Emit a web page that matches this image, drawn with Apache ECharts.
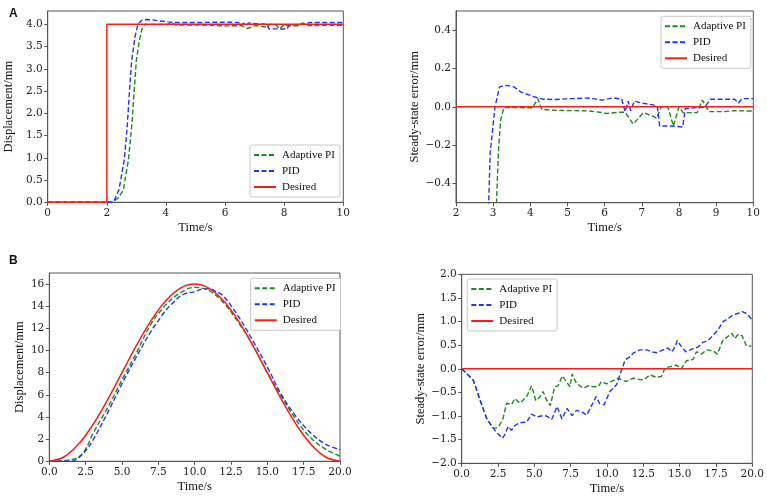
<!DOCTYPE html>
<html>
<head>
<meta charset="utf-8">
<script src="https://cdn.jsdelivr.net/npm/echarts@6/dist/echarts.min.js"></script>
<style>html,body{margin:0;padding:0;background:#fff}#c{width:767px;height:497px}</style>
</head>
<body>
<div id="c"></div>
<script>
// ---- Panel A (step response) ----
const stepDesired = [[0,0],[2,0],[2,4],[10,4]];
const stepPI = [[0,0],[2.0,0],[2.17,0],[2.39,0.1],[2.56,0.28],[2.73,0.95],[2.84,1.70],[2.92,2.44],[3.0,3.19],[3.09,3.6],[3.2,3.93],[3.29,4.0],[4.06,3.995],[4.2,4.04],[4.31,3.986],[5.57,3.98],[6.05,3.965],[6.55,3.972],[6.77,3.91],[7.04,3.97],[7.4,3.94],[7.52,4.0],[7.7,4.0],[7.85,3.9],[8.0,4.0],[8.11,3.97],[8.49,3.97],[8.63,4.035],[8.81,3.975],[10,3.978]];
const stepPID = [[0,0],[2.0,0],[2.22,0],[2.41,0.28],[2.59,0.95],[2.69,1.70],[2.76,2.44],[2.84,3.19],[2.95,3.71],[3.05,4.0],[3.18,4.09],[3.35,4.11],[3.56,4.10],[3.74,4.08],[4.06,4.055],[4.33,4.04],[5.0,4.04],[5.57,4.046],[6.23,4.047],[6.46,4.04],[6.55,3.975],[6.63,4.03],[6.7,3.98],[6.8,4.03],[7.0,4.02],[7.42,4.0],[7.48,3.9],[8.1,3.895],[8.17,3.99],[8.7,4.0],[8.85,4.04],[10,4.043]];
const stepErrDesired = [[2,0],[10,0]];
const stepErrPI = [[3.05,-0.7],[3.09,-0.5],[3.14,-0.24],[3.2,-0.07],[3.29,-0.003],[4.06,-0.005],[4.2,0.043],[4.31,-0.014],[4.67,-0.018],[5.57,-0.021],[5.93,-0.03],[6.05,-0.035],[6.41,-0.028],[6.55,-0.028],[6.77,-0.09],[7.04,-0.03],[7.31,-0.05],[7.4,-0.06],[7.52,0],[7.7,0],[7.85,-0.1],[8.0,0],[8.11,-0.03],[8.49,-0.03],[8.63,0.035],[8.81,-0.025],[9.2,-0.025],[9.47,-0.02],[10,-0.022]];
const stepErrPID = [[2.84,-0.8],[2.88,-0.5],[2.92,-0.24],[3.05,0],[3.17,0.104],[3.35,0.112],[3.56,0.104],[3.74,0.078],[4.06,0.055],[4.33,0.04],[4.67,0.038],[5.12,0.043],[5.57,0.046],[5.93,0.035],[6.23,0.047],[6.46,0.04],[6.55,-0.025],[6.63,0.03],[6.7,-0.02],[6.8,0.03],[7.0,0.02],[7.3,0.01],[7.42,0.0],[7.48,-0.1],[7.8,-0.1],[8.1,-0.105],[8.17,-0.01],[8.7,0.0],[8.85,0.04],[9.5,0.04],[9.6,0.02],[9.7,0.043],[10,0.043]];

// ---- Panel B (sinusoidal tracking) ----
const sineDesired = [[0,0],[1,0.39],[2,1.53],[3,3.3],[4,5.53],[5,8],[6,10.47],[7,12.7],[8,14.47],[9,15.61],[10,16],[11,15.61],[12,14.47],[13,12.7],[14,10.47],[15,8],[16,5.53],[17,3.3],[18,1.53],[19,0.39],[20,0]];
const sinePI = [[0,0],[1,0.05],[1.5,0.15],[2,0.35],[2.5,1.1],[3,2.5],[4,4.8],[5,7.35],[6,9.8],[7,12.4],[8,14.1],[9,15.2],[10,15.7],[11,15.4],[12,14.3],[13,12.55],[14,10.5],[15,8.0],[16,5.8],[17,3.7],[18,2.1],[19,1.1],[20,0.45]];
const sinePID = [[0,0],[1,0],[1.6,0.02],[2,0.3],[2.5,0.95],[3,1.9],[4,4.35],[5,7.0],[6,9.45],[7,11.75],[7.5,12.7],[8,13.6],[8.5,14.3],[9,14.9],[9.5,15.2],[10,15.3],[10.5,15.55],[11,15.58],[11.5,15.3],[12,14.9],[13,13.1],[14,10.9],[15,8.5],[16,5.95],[17,4.0],[18,2.55],[19,1.55],[20,1.05]];
const sineErrDesired = [[0,0],[20,0]];
const sineErrPI = [[0,0],[0.8,-0.24],[1.26,-0.66],[1.72,-1.05],[1.95,-1.16],[2.2,-1.26],[2.5,-1.24],[2.82,-1.08],[3.09,-0.73],[3.43,-0.76],[3.66,-0.63],[4.0,-0.73],[4.47,-0.59],[4.81,-0.36],[5.1,-0.67],[5.38,-0.6],[5.6,-0.48],[5.84,-0.66],[6.1,-0.78],[6.4,-0.38],[6.63,-0.36],[6.93,-0.15],[7.2,-0.27],[7.45,-0.38],[7.6,-0.11],[7.9,-0.31],[8.36,-0.41],[8.7,-0.36],[9.04,-0.38],[9.39,-0.38],[9.62,-0.27],[9.97,-0.32],[10.42,-0.25],[10.77,-0.2],[11.3,-0.27],[11.8,-0.2],[12.5,-0.24],[12.95,-0.13],[13.4,-0.18],[13.75,-0.16],[14.0,0.02],[14.3,0.04],[14.78,0.08],[15.1,0.0],[15.47,0.17],[15.93,0.2],[16.15,0.36],[16.5,0.31],[16.84,0.4],[17.3,0.38],[17.6,0.31],[17.98,0.61],[18.3,0.68],[18.6,0.75],[18.8,0.64],[19.03,0.73],[19.3,0.7],[19.6,0.48],[19.95,0.48]];
const sineErrPID = [[0,0],[0.8,-0.24],[1.26,-0.66],[1.72,-1.05],[1.95,-1.16],[2.4,-1.35],[2.82,-1.47],[3.0,-1.37],[3.2,-1.22],[3.43,-1.3],[3.66,-1.2],[4.0,-1.14],[4.47,-1.13],[4.81,-0.96],[5.16,-1.02],[5.6,-0.99],[5.84,-1.0],[6.2,-1.07],[6.56,-0.8],[6.9,-1.06],[7.25,-0.84],[7.6,-0.99],[7.9,-0.88],[8.25,-0.91],[8.6,-0.98],[8.95,-0.77],[9.25,-0.59],[9.5,-0.74],[9.8,-0.76],[10.2,-0.48],[10.65,-0.34],[11.0,-0.03],[11.25,0.19],[11.6,0.26],[11.8,0.33],[12.26,0.4],[12.72,0.4],[13.06,0.36],[13.4,0.34],[13.86,0.4],[14.2,0.44],[14.45,0.36],[14.68,0.46],[14.84,0.6],[15.1,0.48],[15.42,0.36],[15.8,0.41],[16.26,0.46],[16.6,0.56],[16.96,0.6],[17.3,0.71],[17.64,0.82],[17.98,1.0],[18.33,1.06],[18.67,1.14],[19.0,1.17],[19.3,1.21],[19.6,1.17],[19.95,1.05]];

// ---- tick values ----
const aDispTicks = [0,0.5,1.0,1.5,2.0,2.5,3.0,3.5,4.0];
const aTimeTicks = [0,2,4,6,8,10];
const aErrTicks = [-0.4,-0.2,0,0.2,0.4];
const aErrTimeTicks = [2,3,4,5,6,7,8,9,10];
const bDispTicks = [0,2,4,6,8,10,12,14,16];
const bTimeTicks = [0,2.5,5,7.5,10,12.5,15,17.5,20];
const bErrTicks = [-2.0,-1.5,-1.0,-0.5,0,0.5,1.0,1.5,2.0];

const seriesNames = ['Adaptive PI','PID','Desired'];
const GREEN = '#1a8a1a', BLUE = '#1f35ff', RED = '#ff1a1a';

const tickFont = 'DejaVu Serif';
const titleFont = 'Liberation Serif';
const frame = '#555';

function fmt1(v){ const s = Math.abs(v).toFixed(1); return (v < -1e-9 ? '\u2212' : '') + s; }
function fmt0(v){ return String(v); }

function xAxis(gi, min, max, ticks, f){
  return {type:'value', gridIndex:gi, min:min, max:max,
    name:'Time/s', nameLocation:'middle', nameGap:19,
    nameTextStyle:{fontFamily:titleFont, fontSize:12.5, color:'#111'},
    axisLine:{show:true, onZero:false, lineStyle:{color:frame, width:1}},
    axisTick:{show:true, length:3.5, customValues:ticks, lineStyle:{color:frame}},
    axisLabel:{customValues:ticks, formatter:f, fontFamily:tickFont, fontSize:10.5, color:'#222', margin:5},
    splitLine:{show:false}};
}
function yAxis(gi, min, max, ticks, f, name, gap){
  return {type:'value', gridIndex:gi, min:min, max:max,
    name:name, nameLocation:'middle', nameGap:gap,
    nameTextStyle:{fontFamily:titleFont, fontSize:12.5, color:'#111'},
    axisLine:{show:true, onZero:false, lineStyle:{color:frame, width:1}},
    axisTick:{show:true, length:3.5, customValues:ticks, lineStyle:{color:frame}},
    axisLabel:{customValues:ticks, formatter:f, fontFamily:tickFont, fontSize:10.5, color:'#222', margin:5},
    splitLine:{show:false}};
}
function lines(gi, pi, pid, des, smooth){
  return [
    {type:'line', name:seriesNames[0], xAxisIndex:gi, yAxisIndex:gi, data:pi, symbol:'none', symbolSize:0, smooth:smooth, lineStyle:{color:GREEN, width:1.4, type:[5,2.5]}, itemStyle:{color:GREEN}},
    {type:'line', name:seriesNames[1], xAxisIndex:gi, yAxisIndex:gi, data:pid, symbol:'none', symbolSize:0, smooth:smooth, lineStyle:{color:BLUE, width:1.4, type:[5,2.5]}, itemStyle:{color:BLUE}},
    {type:'line', name:seriesNames[2], xAxisIndex:gi, yAxisIndex:gi, data:des, symbol:'none', symbolSize:0, smooth:smooth, lineStyle:{color:RED, width:1.5, type:'solid'}, itemStyle:{color:RED}}
  ];
}
function legend(left, top){
  return {data:seriesNames, orient:'vertical', left:left, top:top, itemWidth:22, itemHeight:8, itemGap:4,
    padding:[4,5,4,3], borderColor:'#c8c8c8', borderWidth:1, borderRadius:2, backgroundColor:'#fff',
    selectedMode:false,
    itemStyle:{opacity:0},
    textStyle:{fontFamily:titleFont, fontSize:11, color:'#111', lineHeight:12, padding:[0,0,0,1]}};
}

const chart = echarts.init(document.getElementById('c'), null, {renderer:'canvas'});
chart.setOption({
  animation:false,
  backgroundColor:'#fff',
  title:[
    {text:'A', left:4, top:3, textStyle:{fontFamily:'Liberation Sans', fontWeight:'bold', fontSize:12, color:'#111'}},
    {text:'B', left:4, top:250, textStyle:{fontFamily:'Liberation Sans', fontWeight:'bold', fontSize:12, color:'#111'}}
  ],
  grid:[
    {left:47.7, top:11, width:295.6, height:191.3, show:true, borderColor:frame, borderWidth:1, backgroundColor:'transparent'},
    {left:456, top:11, width:297.3, height:191.7, show:true, borderColor:frame, borderWidth:1, backgroundColor:'transparent'},
    {left:49.3, top:273, width:290.7, height:188.3, show:true, borderColor:frame, borderWidth:1, backgroundColor:'transparent'},
    {left:461.7, top:274.3, width:291, height:189, show:true, borderColor:frame, borderWidth:1, backgroundColor:'transparent'}
  ],
  xAxis:[
    xAxis(0, 0, 10, aTimeTicks, fmt0),
    xAxis(1, 2, 10, aErrTimeTicks, fmt0),
    xAxis(2, 0, 20, bTimeTicks, fmt1),
    xAxis(3, 0, 20, bTimeTicks, fmt1)
  ],
  yAxis:[
    yAxis(0, 0, 4.3, aDispTicks, fmt1, 'Displacement/mm', 32),
    yAxis(1, -0.5, 0.5, aErrTicks, fmt1, 'Steady-state error/mm', 33),
    yAxis(2, 0, 17, bDispTicks, fmt0, 'Displacement/mm', 23),
    yAxis(3, -2, 2, bErrTicks, fmt1, 'Steady-state error/mm', 34)
  ],
  legend:[legend(250,145), legend(661,16.3), legend(250.7,278.3), legend(467.3,279)],
  series:[].concat(
    lines(0, stepPI, stepPID, stepDesired, false),
    lines(1, stepErrPI, stepErrPID, stepErrDesired, false),
    lines(2, sinePI, sinePID, sineDesired, 0.35),
    lines(3, sineErrPI, sineErrPID, sineErrDesired, false)
  )
});
</script>
</body>
</html>
